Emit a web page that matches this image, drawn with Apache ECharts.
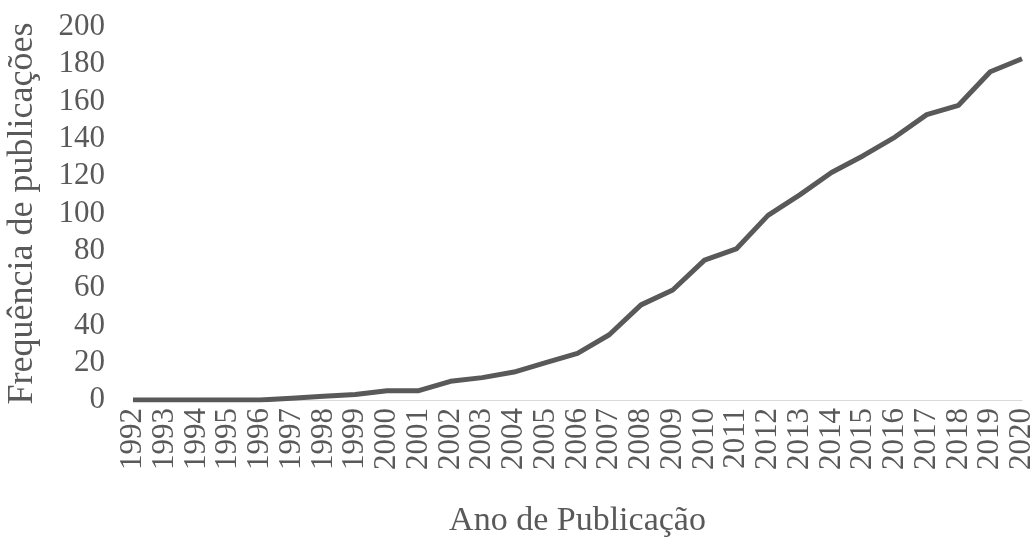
<!DOCTYPE html>
<html>
<head>
<meta charset="utf-8">
<script src="https://cdn.jsdelivr.net/npm/echarts@6/dist/echarts.min.js"></script>
<style>
  html, body { margin: 0; padding: 0; background: #fff; }
  #chart { width: 1036px; height: 538px; }
</style>
</head>
<body>
<div id="chart"></div>
<script>
// anos e frequência
const years = ['1992', '1993', '1994', '1995', '1996', '1997', '1998', '1999', '2000', '2001',
  '2002', '2003', '2004', '2005', '2006', '2007', '2008', '2009', '2010', '2011',
  '2012', '2013', '2014', '2015', '2016', '2017', '2018', '2019', '2020']
const frequency = [0, 0, 0, 0, 0, 1, 2, 3, 5, 5,
  10, 12, 15, 20, 25, 35, 51, 59, 75, 81,
  99, 110, 122, 131, 141, 153, 158, 176, 183]

const fontFamily = '"Liberation Serif", "Times New Roman", serif'
const textColor = '#595959'

const chart = echarts.init(document.getElementById('chart'))
chart.setOption({
  animation: false,
  grid: {
    left: 133,
    right: 14,
    top: 27,
    bottom: 138,
    containLabel: false,
    outerBoundsMode: 'none'
  },
  xAxis: {
    type: 'category',
    data: years,
    boundaryGap: false,
    name: 'Ano de Publicação',
    nameLocation: 'middle',
    nameGap: 104,
    nameTextStyle: { fontFamily, fontSize: 34, color: textColor },
    axisLine: { lineStyle: { color: '#d9d9d9', width: 1 } },
    axisTick: { show: false },
    axisLabel: {
      interval: 0,
      rotate: 90,
      margin: 8,
      fontFamily,
      fontSize: 31,
      color: textColor
    }
  },
  yAxis: {
    type: 'value',
    min: 0,
    max: 200,
    interval: 20,
    name: 'Frequência de publicações',
    nameLocation: 'middle',
    nameGap: 92,
    nameTextStyle: { fontFamily, fontSize: 36, color: textColor },
    axisLine: { show: false },
    axisTick: { show: false },
    splitLine: { show: false },
    axisLabel: {
      margin: 28,
      fontFamily,
      fontSize: 31,
      color: textColor
    }
  },
  series: [
    {
      type: 'line',
      data: frequency,
      symbol: 'none',
      lineStyle: { color: '#595959', width: 5 }
    }
  ]
})
</script>
</body>
</html>
